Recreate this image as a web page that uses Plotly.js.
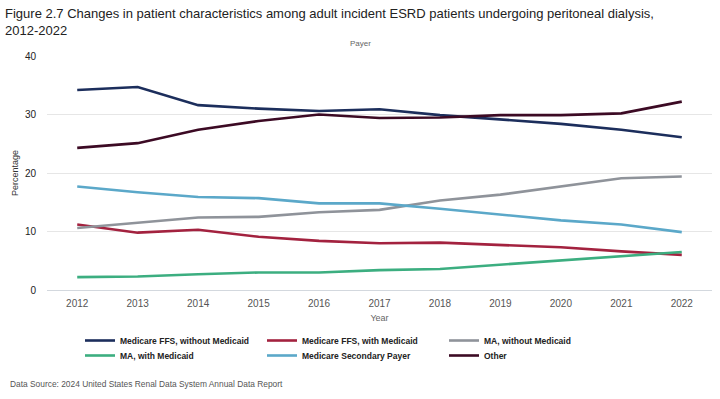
<!DOCTYPE html>
<html>
<head>
<meta charset="utf-8">
<script src="https://cdn.plot.ly/plotly-3.0.1.min.js"></script>
<style>html,body{margin:0;padding:0;background:#fff;}#chart{width:720px;height:399px;}</style>
</head>
<body>
<div id="chart"></div>
<script>
const years = [2012, 2013, 2014, 2015, 2016, 2017, 2018, 2019, 2020, 2021, 2022];
const seriesNames = [
  "Medicare FFS, without Medicaid",
  "Medicare FFS, with Medicaid",
  "MA, without Medicaid",
  "MA, with Medicaid",
  "Medicare Secondary Payer",
  "Other"
];
const ffsWithoutMedicaid = [34.2, 34.7, 31.6, 31.0, 30.6, 30.9, 29.9, 29.1, 28.4, 27.4, 26.1];
const ffsWithMedicaid    = [11.2, 9.8, 10.3, 9.1, 8.4, 8.0, 8.1, 7.7, 7.3, 6.6, 6.0];
const maWithoutMedicaid  = [10.6, 11.5, 12.4, 12.5, 13.3, 13.7, 15.3, 16.3, 17.7, 19.1, 19.4];
const maWithMedicaid     = [2.2, 2.3, 2.7, 3.0, 3.0, 3.4, 3.6, 4.3, 5.1, 5.8, 6.5];
const secondaryPayer     = [17.7, 16.7, 15.9, 15.7, 14.8, 14.8, 13.9, 12.9, 11.9, 11.2, 9.9];
const other              = [24.3, 25.1, 27.4, 28.9, 30.0, 29.4, 29.5, 29.9, 29.9, 30.2, 32.2];
const seriesValues = [ffsWithoutMedicaid, ffsWithMedicaid, maWithoutMedicaid, maWithMedicaid, secondaryPayer, other];
const colors = ["#1c2e5c", "#a3223f", "#8f939a", "#3cae80", "#5ba8c9", "#3c0a24"];

const traces = seriesNames.map((name, i) => ({
  type: "scatter",
  mode: "lines",
  x: years,
  y: seriesValues[i],
  name: name,
  legend: i < 3 ? "legend" : "legend2",
  line: {color: colors[i], width: 2.6},
  hoverinfo: "x+y+name"
}));

const legendBase = {
  orientation: "h",
  xref: "container", yref: "container",
  x: 80 / 720, xanchor: "left",
  yanchor: "top",
  entrywidth: 137,
  entrywidthmode: "pixels",
  itemwidth: 30,
  font: {family: "Liberation Sans, Arial, sans-serif", size: 8.5, color: "#222", weight: "bold"},
  bgcolor: "rgba(0,0,0,0)"
};

// plot area in pixels: x 47..712, y 56..290
const PL = 47, PW = 665, PB = 290, PH = 234;

const layout = {
  width: 720,
  height: 399,
  paper_bgcolor: "#ffffff",
  plot_bgcolor: "#ffffff",
  margin: {l: 47, r: 8, t: 56, b: 109},
  font: {family: "Liberation Sans, Arial, sans-serif", color: "#333"},
  title: {
    text: "Figure 2.7 Changes in patient characteristics among adult incident ESRD patients undergoing peritoneal dialysis,<br>2012-2022",
    font: {family: "Liberation Sans, Arial, sans-serif", size: 13, color: "#222"},
    xref: "container", yref: "container",
    x: 0.007, xanchor: "left",
    y: 0.995 - 16 / 399, yanchor: "top"
  },
  xaxis: {
    range: [2011.5, 2022.5],
    tickvals: years,
    ticktext: years.map(String),
    showgrid: false,
    zeroline: false,
    showline: true,
    linecolor: "#d3d8de",
    linewidth: 1,
    ticks: "outside",
    ticklen: 4,
    tickcolor: "rgba(0,0,0,0)",
    tickfont: {size: 10, color: "#555"},
    title: {text: "Year", font: {size: 9, color: "#666"}, standoff: 6},
    fixedrange: true
  },
  yaxis: {
    range: [0, 40],
    tickvals: [0, 10, 20, 30, 40],
    showgrid: true,
    gridcolor: "#e6e6e6",
    gridwidth: 1,
    zeroline: false,
    showline: false,
    ticks: "outside",
    ticklen: 8,
    tickcolor: "rgba(0,0,0,0)",
    tickfont: {size: 10, color: "#222"},
    title: {text: "Percentage", font: {size: 9, color: "#333"}, standoff: 4},
    fixedrange: true
  },
  showlegend: true,
  legend: Object.assign({}, legendBase, {y: 1 - 326 / 399}),
  legend2: Object.assign({}, legendBase, {y: 1 - 341 / 399}),
  annotations: [
    {
      text: "Payer",
      xref: "paper", yref: "paper",
      x: (360 - PL) / PW, xanchor: "center",
      y: (PB - 44) / PH, yanchor: "middle",
      showarrow: false,
      font: {size: 8, color: "#666"}
    },
    {
      text: "Data Source: 2024 United States Renal Data System Annual Data Report",
      xref: "paper", yref: "paper",
      x: (8 - PL) / PW, xanchor: "left",
      y: (PB - 384) / PH, yanchor: "middle",
      showarrow: false,
      font: {size: 8.4, color: "#555"}
    }
  ]
};

Plotly.newPlot("chart", traces, layout, {displayModeBar: false});
</script>
</body>
</html>
